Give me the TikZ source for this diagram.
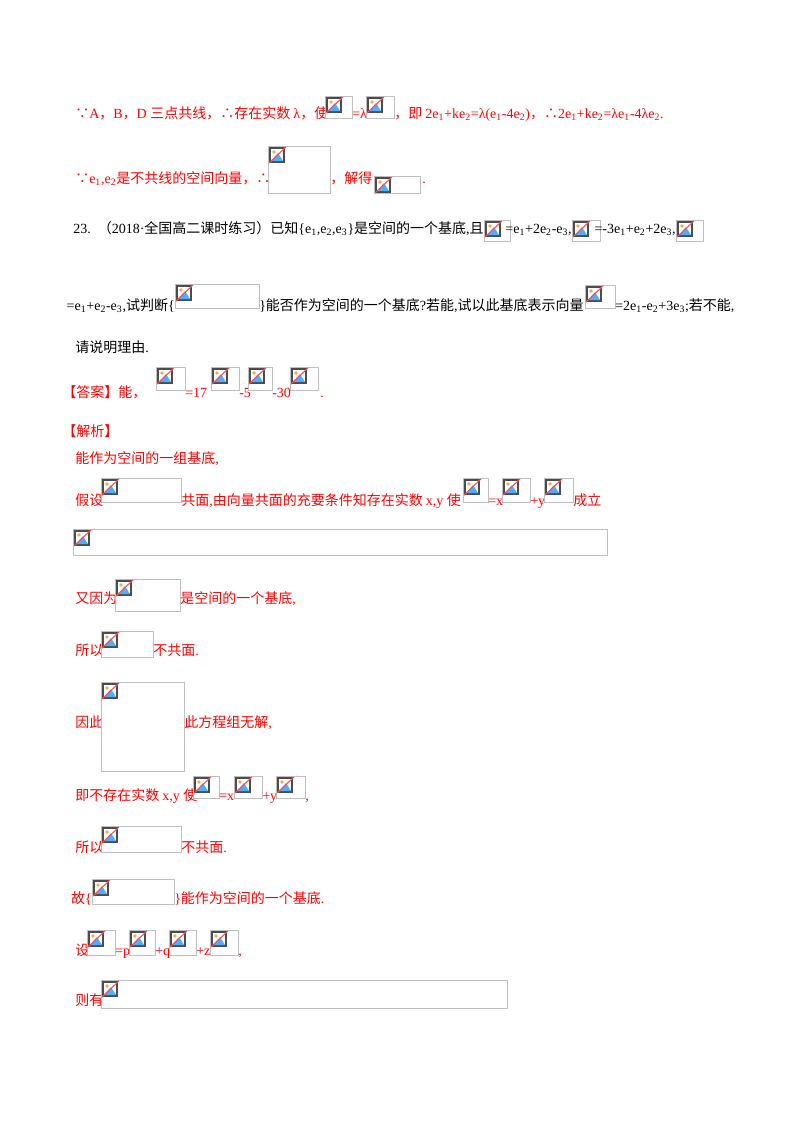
\documentclass[tikz,border=0pt]{standalone}
\usepackage{fontspec}
\setmainfont{Liberation Serif}
\newfontfamily\cjk{Noto Sans CJK SC}
\XeTeXinterchartokenstate=1
\newXeTeXintercharclass\cjkclass
\makeatletter
\count@="3000 \loop\ifnum\count@<"303F \XeTeXcharclass\count@=\cjkclass \advance\count@ 1 \repeat
\count@="4E00 \loop\ifnum\count@<"9FFF \XeTeXcharclass\count@=\cjkclass \advance\count@ 1 \repeat
\count@="FF00 \loop\ifnum\count@<"FFEF \XeTeXcharclass\count@=\cjkclass \advance\count@ 1 \repeat
\XeTeXcharclass"2234=\cjkclass \XeTeXcharclass"2235=\cjkclass
\makeatother
\XeTeXinterchartoks 0 \cjkclass = {\cjk}
\XeTeXinterchartoks 4095 \cjkclass = {\cjk}
\XeTeXinterchartoks \cjkclass 0 = {\rmfamily}
\XeTeXinterchartoks 4095 0 = {\rmfamily}
\newcommand\s[1]{\textsubscript{#1}}
\newcommand\lb{\rmfamily\{}
\newcommand\rb{\rmfamily\}}
\definecolor{red1}{RGB}{255,0,0}
\tikzset{
 t/.style={anchor=base west,inner sep=0pt,font=\fontsize{10.5pt}{12pt}\selectfont},
 r/.style={t,text=red1},
 k/.style={t,text=black},
 e/.style={anchor=base east},
 phbox/.style={draw=black!25,line width=0.6pt,fill=white}
}
\newcommand\ph[4]{%
 \draw[phbox] (#1,#2) rectangle (#3,#4);
 \begin{scope}[shift={(#1+2,#2+2)}]
  \draw[black!70,line width=1.2pt,fill=white] (0,0) rectangle (14,14);
  \fill[blue!45!cyan!70] (1,13) -- (8,5) -- (13,13) -- cycle;
  \fill[orange!70] (4,4) circle (1.8);
  \draw[red!70,line width=0.8pt] (-1,15) -- (16,-1);
 \end{scope}}
\begin{document}
\begin{tikzpicture}[x=0.75pt,y=-0.75pt]
\useasboundingbox (0,0) rectangle (800,1132);
% line 1
\node[r] (a1) at (75,118) {∵A，B，D 三点共线，∴存在实数 λ，使};
\ph{325}{96}{352}{118}
\node[r] (a2) at (352,118) {=λ};
\ph{366}{96}{394}{118}
\node[r] (a3) at (394,118) {，即 2e\s1+ke\s2=λ(e\s1-4e\s2)，∴2e\s1+ke\s2=λe\s1-4λe\s2.};
% line 2
\node[r] (b1) at (75,183) {∵e\s1,e\s2是不共线的空间向量，∴};
\ph{268}{146}{330}{193}
\node[r] (b2) at (330,183) {，解得};
\ph{374}{176}{420}{193}
\node[r] (b3) at (422,183) {.};
% line 3
\node[k,e] (c1) at (484,233) {23.\ \ （2018·全国高二课时练习）已知\lb e\s1,e\s2,e\s3\rb 是空间的一个基底,且};
\ph{484}{220}{510}{241}
\node[k,e] (c2) at (572,233) {=e\s1+2e\s2-e\s3,};
\ph{572}{220}{600}{241}
\node[k,e] (c3) at (676,233) {=-3e\s1+e\s2+2e\s3,};
\ph{676}{220}{703}{241}
% line 4
\node[k,e] (d1) at (175,310) {=e\s1+e\s2-e\s3,试判断\lb};
\ph{175}{284}{259}{308}
\node[k] (d2) at (259,310) {\rb 能否作为空间的一个基底?若能,试以此基底表示向量};
\ph{585}{285}{615}{308}
\node[k] (d3) at (615,310) {=2e\s1-e\s2+3e\s3;若不能,};
\node[k] (e1) at (75,352) {请说明理由.};
% answer
\node[r] (f1) at (62,397) {【答案】能，};
\ph{156}{367}{185}{390}
\node[r] (f2) at (185,397) {=17};
\ph{211}{367}{239}{390}
\node[r] (f3) at (239,397) {-5};
\ph{248}{367}{272}{390}
\node[r] (f4) at (272,397) {-30};
\ph{290}{367}{318}{390}
\node[r] (f5) at (320,397) {.};
\node[r] (g1) at (62,436) {【解析】};
\node[r] (h1) at (75,463) {能作为空间的一组基底,};
\node[r] (i1) at (75,505) {假设};
\ph{101}{478}{181}{502}
\node[r] (i2) at (181,505) {共面,由向量共面的充要条件知存在实数 x,y 使};
\ph{463}{478}{488}{502}
\node[r] (i3) at (488,505) {=x};
\ph{502}{478}{530}{502}
\node[r] (i4) at (530,505) {+y};
\ph{544}{478}{573}{502}
\node[r] (i5) at (573,505) {成立};
\ph{73}{529}{607}{555}
\node[r] (j1) at (75,603) {又因为};
\ph{115}{579}{180}{611}
\node[r] (j2) at (180,603) {是空间的一个基底,};
\node[r] (k1) at (75,655) {所以};
\ph{101}{631}{153}{657}
\node[r] (k2) at (153,655) {不共面.};
\node[r] (l1) at (75,727) {因此};
\ph{101}{682}{184}{771}
\node[r] (l2) at (184,727) {此方程组无解,};
\node[r] (m1) at (75,800) {即不存在实数 x,y 使};
\ph{193}{776}{219}{798}
\node[r] (m2) at (219,800) {=x};
\ph{234}{776}{262}{798}
\node[r] (m3) at (262,800) {+y};
\ph{276}{776}{305}{798}
\node[r] (m4) at (305,800) {,};
\node[r] (n1) at (75,852) {所以};
\ph{101}{826}{181}{852}
\node[r] (n2) at (181,852) {不共面.};
\node[r,e] (o1) at (92,903) {故\lb};
\ph{92}{879}{174}{904}
\node[r] (o2) at (174,903) {\rb 能作为空间的一个基底.};
\node[r] (p1) at (75,955) {设};
\ph{87}{930}{115}{955}
\node[r] (p2) at (115,955) {=p};
\ph{129}{930}{155}{955}
\node[r] (p3) at (155,955) {+q};
\ph{169}{930}{196}{955}
\node[r] (p4) at (196,955) {+z};
\ph{210}{930}{238}{955}
\node[r] (p5) at (238,955) {,};
\node[r] (q1) at (75,1005) {则有};
\ph{101}{980}{507}{1008}
\end{tikzpicture}
\end{document}
